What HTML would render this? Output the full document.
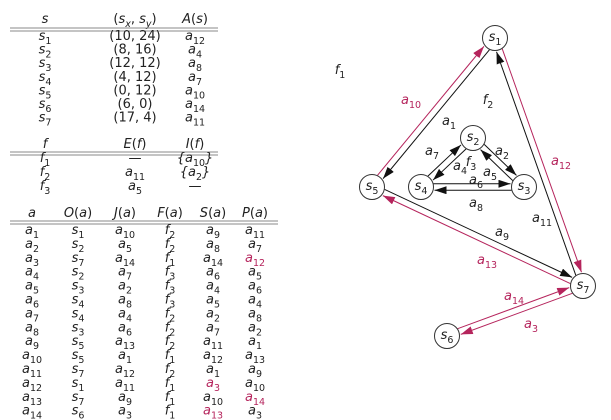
<!DOCTYPE html>
<html><head><meta charset="utf-8"><style>
html,body{margin:0;padding:0;background:#fff;}
svg{display:block;font-family:"DejaVu Sans","Liberation Sans",sans-serif;}
text{font-size:13px;fill:#222;}
.p{fill:#b5245c;}
</style></head><body>
<svg id="s" width="611" height="420" viewBox="0 0 611 420">
<g id="tables"></g>
<g id="graph"></g>
</svg>
<script>
const NS="http://www.w3.org/2000/svg";
const nodeNames=["s1","s2","s3","s4","s5","s6","s7"];
const nodeX=[495,473,524,421,372,447,583];
const nodeY=[38,138,187,187,187,336,286];
const edgeFrom=[1,2,7,2,3,4,4,3,5,5,7,1,7,6];
const edgeTo=[5,3,6,4,2,3,2,4,7,1,1,7,5,7];
const edgePink=[0,0,1,0,0,0,0,0,0,1,0,1,1,1];
const T=document.getElementById('tables'),G=document.getElementById('graph');
function mk(tag,at,par){const e=document.createElementNS(NS,tag);for(const k in at)e.setAttribute(k,at[k]);par.appendChild(e);return e;}
function cell(str,x,y,par,cls,name){
  const t=mk('text',{x:x,y:y,'text-anchor':'middle'},par);
  
  
  if(cls)t.setAttribute('class',cls);
  const parts=str.split(/(_\d+)/);
  for(const p of parts){if(!p)continue;
    if(p[0]==='_'){const s=mk('tspan',{dy:4,'font-size':'9.5'},t);s.textContent=p.slice(1);const b=mk('tspan',{dy:-4},t);b.textContent='\u200b';}
    else{const s=mk('tspan',{'font-style':'italic'},t);s.textContent=p;}
  }
  return t;
}
function rule(x1,x2,y){mk('line',{x1:x1,x2:x2,y1:y,y2:y,stroke:'#888','stroke-width':1},T);mk('line',{x1:x1,x2:x2,y1:y+3,y2:y+3,stroke:'#888','stroke-width':1},T);}
const t1cols=[45,135,195];
const t1head=["s","(s_x, s_y)","A(s)"];
const t1rows=[["s_1","(10, 24)","a_12"],["s_2","(8, 16)","a_4"],["s_3","(12, 12)","a_8"],["s_4","(4, 12)","a_7"],["s_5","(0, 12)","a_10"],["s_6","(6, 0)","a_14"],["s_7","(17, 4)","a_11"]];
t1head.forEach((h,i)=>{const t=mk('text',{x:t1cols[i],y:23,'text-anchor':'middle'},T);
 if(i===1){t.innerHTML='(<tspan font-style="italic">s</tspan><tspan dy="4" font-size="9.5" font-style="italic">x</tspan><tspan dy="-4">, </tspan><tspan font-style="italic">s</tspan><tspan dy="4" font-size="9.5" font-style="italic">y</tspan><tspan dy="-4">)</tspan>';}
 else if(i===2){t.innerHTML='<tspan font-style="italic">A</tspan>(<tspan font-style="italic">s</tspan>)';}
 else t.innerHTML='<tspan font-style="italic">s</tspan>';});
rule(10,218,28);
t1rows.forEach((r,j)=>r.forEach((c,i)=>{const e=cell(c,t1cols[i],40+13.6*j,T,null,'vertex-cell');if(i===1)e.querySelectorAll('tspan').forEach(s=>s.removeAttribute('font-style'));}));
const t2rows=[["f_1","—","{a_10}"],["f_2","a_11","{a_2}"],["f_3","a_5","—"]];
[['<tspan font-style="italic">f</tspan>'],['<tspan font-style="italic">E</tspan>(<tspan font-style="italic">f</tspan>)'],['<tspan font-style="italic">I</tspan>(<tspan font-style="italic">f</tspan>)']].forEach((h,i)=>{const t=mk('text',{x:t1cols[i],y:148,'text-anchor':'middle'},T);t.innerHTML=h[0];});
rule(10,218,152);
t2rows.forEach((r,j)=>r.forEach((c,i)=>cell(c,t1cols[i],162+14*j,T,null,'face-cell')));
const t3cols=[32,78,125,170,213,255];
const t3head=["a","O","J","F","S","P"];
const t3rows=[["a_1","s_1","a_10","f_2","a_9","a_11"],["a_2","s_2","a_5","f_2","a_8","a_7"],["a_3","s_7","a_14","f_1","a_14","a_12"],["a_4","s_2","a_7","f_3","a_6","a_5"],["a_5","s_3","a_2","f_3","a_4","a_6"],["a_6","s_4","a_8","f_3","a_5","a_4"],["a_7","s_4","a_4","f_2","a_2","a_8"],["a_8","s_3","a_6","f_2","a_7","a_2"],["a_9","s_5","a_13","f_2","a_11","a_1"],["a_10","s_5","a_1","f_1","a_12","a_13"],["a_11","s_7","a_12","f_2","a_1","a_9"],["a_12","s_1","a_11","f_1","a_3","a_10"],["a_13","s_7","a_9","f_1","a_10","a_14"],["a_14","s_6","a_3","f_1","a_13","a_3"]];
const t3pink=[[2,5],[11,4],[12,5],[13,4]];
t3head.forEach((h,i)=>{const t=mk('text',{x:t3cols[i],y:217,'text-anchor':'middle'},T);
 t.innerHTML=i===0?'<tspan font-style="italic">a</tspan>':'<tspan font-style="italic">'+h+'</tspan>(<tspan font-style="italic">a</tspan>)';});
rule(10,278,221);
t3rows.forEach((r,j)=>r.forEach((c,i)=>{const pk=t3pink.some(p=>p[0]===j&&p[1]===i);cell(c,t3cols[i],234+13.9*j,T,pk?'p':null,'halfedge-cell');}));
const defs=mk('defs',{},G);
[['ak','#111'],['ap','#b5245c']].forEach(([id,c])=>{const m=mk('marker',{id:id,markerWidth:12,markerHeight:8,refX:12,refY:4,orient:'auto',markerUnits:'userSpaceOnUse'},defs);mk('path',{d:'M0,0 L12,4 L0,8 z',fill:c},m);});
const R=12.5,OFF=3.2;
edgeFrom.forEach((f,i)=>{const a=f-1,b=edgeTo[i]-1;
 let x1=nodeX[a],y1=nodeY[a],x2=nodeX[b],y2=nodeY[b];
 const L=Math.hypot(x2-x1,y2-y1),dx=(x2-x1)/L,dy=(y2-y1)/L;
 const ox=dy*OFF,oy=-dx*OFF;
 const c=edgePink[i]?'#b5245c':'#111';
 const l=mk('line',{x1:x1+dx*R+ox,y1:y1+dy*R+oy,x2:x2-dx*(R+1)+ox,y2:y2-dy*(R+1)+oy,stroke:c,'stroke-width':1,'marker-end':'url(#'+(edgePink[i]?'ap':'ak')+')'},G);
 
 
});
nodeNames.forEach((n,i)=>{const c=mk('circle',{cx:nodeX[i],cy:nodeY[i],r:R,fill:'#fff',stroke:'#333','stroke-width':1},G);
 
 
 cell('s_'+n.slice(1),nodeX[i],nodeY[i]+3,G,null,'vertex-label-'+n);});
const lbl=[["f_1",340,74,0],["f_2",488,104,0],["f_3",471,166,0],["a_10",411,104,1],["a_1",449,125,0],["a_7",432,155,0],["a_2",502,155,0],["a_4",460,170,0],["a_5",490,176,0],["a_6",476,184,0],["a_8",476,207,0],["a_12",561,165,1],["a_11",542,222,0],["a_9",502,236,0],["a_13",487,264,1],["a_14",514,300,1],["a_3",531,328,1]];
lbl.forEach(l=>cell(l[0],l[1],l[2],G,l[3]?'p':null,'graph-label'));
</script>
</body></html>
